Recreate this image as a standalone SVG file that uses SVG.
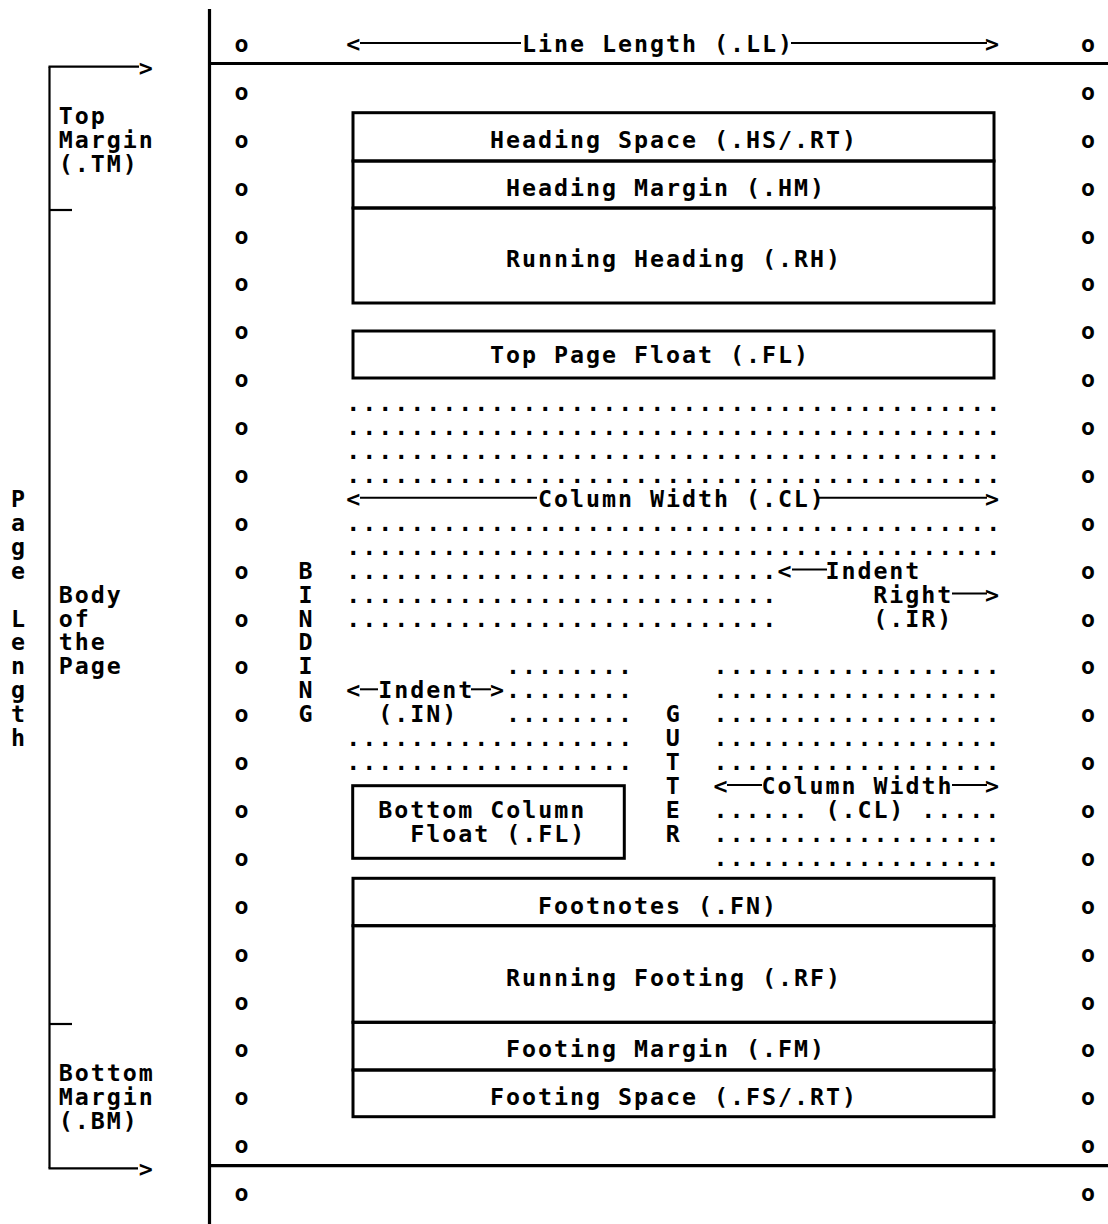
<svg xmlns="http://www.w3.org/2000/svg" width="1108" height="1224" viewBox="0 0 1108 1224" xml:space="preserve">
<style>
text{font-family:"DejaVu Sans Mono","Liberation Mono",monospace;font-weight:bold;font-size:23.3px;letter-spacing:1.97px;fill:#000}
.rule{stroke:#000;stroke-width:3.2;fill:none}
.thin{stroke:#000;stroke-width:2.2;fill:none}
.box{stroke:#000;stroke-width:3;fill:none}
.dash{stroke:#000;stroke-width:2;fill:none}
</style>
<rect x="0" y="0" width="1108" height="1224" fill="#fff"/>
<g id="page-frame">
<line class="rule" x1="209.5" y1="9" x2="209.5" y2="1224"/>
<line class="rule" x1="209" y1="63.5" x2="1108" y2="63.5"/>
<line class="rule" x1="209" y1="1165.7" x2="1108" y2="1165.7"/>
</g>
<g id="page-length-bracket">
<line class="thin" x1="49.5" y1="66.7" x2="49.5" y2="1168.3"/>
<line class="thin" x1="48.5" y1="66.7" x2="139" y2="66.7"/>
<line class="thin" x1="48.5" y1="1168.3" x2="138" y2="1168.3"/>
<line class="thin" x1="49.5" y1="210" x2="72" y2="210"/>
<line class="thin" x1="49.5" y1="1024" x2="72" y2="1024"/>
<text x="138.69" y="75.9">&gt;</text>
<text x="138.69" y="1176.5">&gt;</text>
</g>
<g id="top-margin-label">
<text x="58.84" y="123.8">Top</text>
<text x="58.84" y="147.75">Margin</text>
<text x="58.84" y="171.7">(.TM)</text>
</g>
<g id="body-label">
<text x="58.84" y="602.56">Body</text>
<text x="58.84" y="626.5">of</text>
<text x="58.84" y="650.44">the</text>
<text x="58.84" y="674.38">Page</text>
</g>
<g id="bottom-margin-label">
<text x="58.84" y="1081.31">Bottom</text>
<text x="58.84" y="1105.25">Margin</text>
<text x="58.84" y="1129.19">(.BM)</text>
</g>
<g id="page-length-label">
<text><tspan x="10.93" y="506.81">P</tspan><tspan x="10.93" y="530.75">a</tspan><tspan x="10.93" y="554.69">g</tspan><tspan x="10.93" y="578.63">e</tspan><tspan x="10.93" y="626.5">L</tspan><tspan x="10.93" y="650.44">e</tspan><tspan x="10.93" y="674.38">n</tspan><tspan x="10.93" y="698.31">g</tspan><tspan x="10.93" y="722.25">t</tspan><tspan x="10.93" y="746.19">h</tspan></text>
</g>
<g id="binding-label">
<text><tspan x="298.39" y="578.63">B</tspan><tspan x="298.39" y="602.56">I</tspan><tspan x="298.39" y="626.5">N</tspan><tspan x="298.39" y="650.44">D</tspan><tspan x="298.39" y="674.38">I</tspan><tspan x="298.39" y="698.31">N</tspan><tspan x="298.39" y="722.25">G</tspan></text>
</g>
<g id="gutter-label">
<text><tspan x="665.7" y="722.25">G</tspan><tspan x="665.7" y="746.19">U</tspan><tspan x="665.7" y="770.13">T</tspan><tspan x="665.7" y="794.06">T</tspan><tspan x="665.7" y="818">E</tspan><tspan x="665.7" y="841.94">R</tspan></text>
</g>
<g id="left-holes">
<text><tspan x="234.51" y="52">o</tspan><tspan x="234.51" y="99.88">o</tspan><tspan x="234.51" y="147.75">o</tspan><tspan x="234.51" y="195.63">o</tspan><tspan x="234.51" y="243.5">o</tspan><tspan x="234.51" y="291.38">o</tspan><tspan x="234.51" y="339.25">o</tspan><tspan x="234.51" y="387.13">o</tspan><tspan x="234.51" y="435">o</tspan><tspan x="234.51" y="482.88">o</tspan><tspan x="234.51" y="530.75">o</tspan><tspan x="234.51" y="578.63">o</tspan><tspan x="234.51" y="626.5">o</tspan><tspan x="234.51" y="674.38">o</tspan><tspan x="234.51" y="722.25">o</tspan><tspan x="234.51" y="770.13">o</tspan><tspan x="234.51" y="818">o</tspan><tspan x="234.51" y="865.88">o</tspan><tspan x="234.51" y="913.75">o</tspan><tspan x="234.51" y="961.63">o</tspan><tspan x="234.51" y="1009.5">o</tspan><tspan x="234.51" y="1057.38">o</tspan><tspan x="234.51" y="1105.25">o</tspan><tspan x="234.51" y="1153.13">o</tspan><tspan x="234.51" y="1201">o</tspan></text>
</g>
<g id="right-holes">
<text><tspan x="1080.92" y="52">o</tspan><tspan x="1080.92" y="99.88">o</tspan><tspan x="1080.92" y="147.75">o</tspan><tspan x="1080.92" y="195.63">o</tspan><tspan x="1080.92" y="243.5">o</tspan><tspan x="1080.92" y="291.38">o</tspan><tspan x="1080.92" y="339.25">o</tspan><tspan x="1080.92" y="387.13">o</tspan><tspan x="1080.92" y="435">o</tspan><tspan x="1080.92" y="482.88">o</tspan><tspan x="1080.92" y="530.75">o</tspan><tspan x="1080.92" y="578.63">o</tspan><tspan x="1080.92" y="626.5">o</tspan><tspan x="1080.92" y="674.38">o</tspan><tspan x="1080.92" y="722.25">o</tspan><tspan x="1080.92" y="770.13">o</tspan><tspan x="1080.92" y="818">o</tspan><tspan x="1080.92" y="865.88">o</tspan><tspan x="1080.92" y="913.75">o</tspan><tspan x="1080.92" y="961.63">o</tspan><tspan x="1080.92" y="1009.5">o</tspan><tspan x="1080.92" y="1057.38">o</tspan><tspan x="1080.92" y="1105.25">o</tspan><tspan x="1080.92" y="1153.13">o</tspan><tspan x="1080.92" y="1201">o</tspan></text>
</g>
<g id="line-length">
<text x="346.3" y="52">&lt;</text>
<text x="521.97" y="52">Line Length (.LL)</text>
<text x="985.1" y="52">&gt;</text>
</g>
<g id="heading-space">
<rect class="box" x="353" y="112.7" width="641" height="48.3"/>
<text x="490.03" y="147.75">Heading Space (.HS/.RT)</text>
</g>
<g id="heading-margin">
<rect class="box" x="353" y="161" width="641" height="47"/>
<text x="506" y="195.63">Heading Margin (.HM)</text>
</g>
<g id="running-heading">
<rect class="box" x="353" y="208" width="641" height="95"/>
<text x="506" y="267.44">Running Heading (.RH)</text>
</g>
<g id="top-page-float">
<rect class="box" x="353" y="331" width="641" height="47"/>
<text x="490.03" y="363.19">Top Page Float (.FL)</text>
</g>
<g id="column-text">
<text x="346.3" y="411.06">.........................................</text>
<text x="346.3" y="435">.........................................</text>
<text x="346.3" y="458.94">.........................................</text>
<text x="346.3" y="482.88">.........................................</text>
<text x="346.3" y="530.75">.........................................</text>
<text x="346.3" y="554.69">.........................................</text>
<text x="346.3" y="578.63">...........................</text>
<text x="346.3" y="602.56">...........................</text>
<text x="346.3" y="626.5">...........................</text>
<text x="506" y="674.38">........</text>
<text x="506" y="698.31">........</text>
<text x="506" y="722.25">........</text>
<text x="346.3" y="746.19">..................</text>
<text x="346.3" y="770.13">..................</text>
<text x="713.61" y="674.38">..................</text>
<text x="713.61" y="698.31">..................</text>
<text x="713.61" y="722.25">..................</text>
<text x="713.61" y="746.19">..................</text>
<text x="713.61" y="770.13">..................</text>
<text x="713.61" y="818">......</text>
<text x="921.22" y="818">.....</text>
<text x="713.61" y="841.94">..................</text>
<text x="713.61" y="865.88">..................</text>
</g>
<g id="column-width">
<text x="346.3" y="506.81">&lt;</text>
<text x="537.94" y="506.81">Column Width (.CL)</text>
<text x="985.1" y="506.81">&gt;</text>
</g>
<g id="indent-right">
<text x="777.49" y="578.63">&lt;</text>
<text x="825.4" y="578.63">Indent</text>
<text x="873.31" y="602.56">Right</text>
<text x="985.1" y="602.56">&gt;</text>
<text x="873.31" y="626.5">(.IR)</text>
</g>
<g id="indent">
<text x="346.3" y="698.31">&lt;</text>
<text x="378.24" y="698.31">Indent</text>
<text x="490.03" y="698.31">&gt;</text>
<text x="378.24" y="722.25">(.IN)</text>
</g>
<g id="column-width-2">
<text x="713.61" y="794.06">&lt;</text>
<text x="761.52" y="794.06">Column Width</text>
<text x="985.1" y="794.06">&gt;</text>
<text x="825.4" y="818">(.CL)</text>
</g>
<g id="bottom-column-float">
<rect class="box" x="352.7" y="785.7" width="271.6" height="72.6"/>
<text x="378.24" y="818">Bottom Column</text>
<text x="410.18" y="841.94">Float (.FL)</text>
</g>
<g id="footnotes">
<rect class="box" x="353" y="878.3" width="641" height="47.4"/>
<text x="537.94" y="913.75">Footnotes (.FN)</text>
</g>
<g id="running-footing">
<rect class="box" x="353" y="925.7" width="641" height="96.6"/>
<text x="506" y="985.56">Running Footing (.RF)</text>
</g>
<g id="footing-margin">
<rect class="box" x="353" y="1022.3" width="641" height="47.7"/>
<text x="506" y="1057.38">Footing Margin (.FM)</text>
</g>
<g id="footing-space">
<rect class="box" x="353" y="1070" width="641" height="46.7"/>
<text x="490.03" y="1105.25">Footing Space (.FS/.RT)</text>
</g>
<g id="connectors">
<line class="dash" x1="360" y1="43" x2="521" y2="43"/>
<line class="dash" x1="791" y1="43" x2="987" y2="43"/>
<line class="dash" x1="360" y1="497.8" x2="537" y2="497.8"/>
<line class="dash" x1="818" y1="497.8" x2="987" y2="497.8"/>
<line class="dash" x1="792" y1="569.6" x2="827" y2="569.6"/>
<line class="dash" x1="952" y1="593.6" x2="987" y2="593.6"/>
<line class="dash" x1="360" y1="689.3" x2="378" y2="689.3"/>
<line class="dash" x1="471" y1="689.3" x2="491" y2="689.3"/>
<line class="dash" x1="727" y1="785.1" x2="762" y2="785.1"/>
<line class="dash" x1="952" y1="785.1" x2="987" y2="785.1"/>
</g>
</svg>
